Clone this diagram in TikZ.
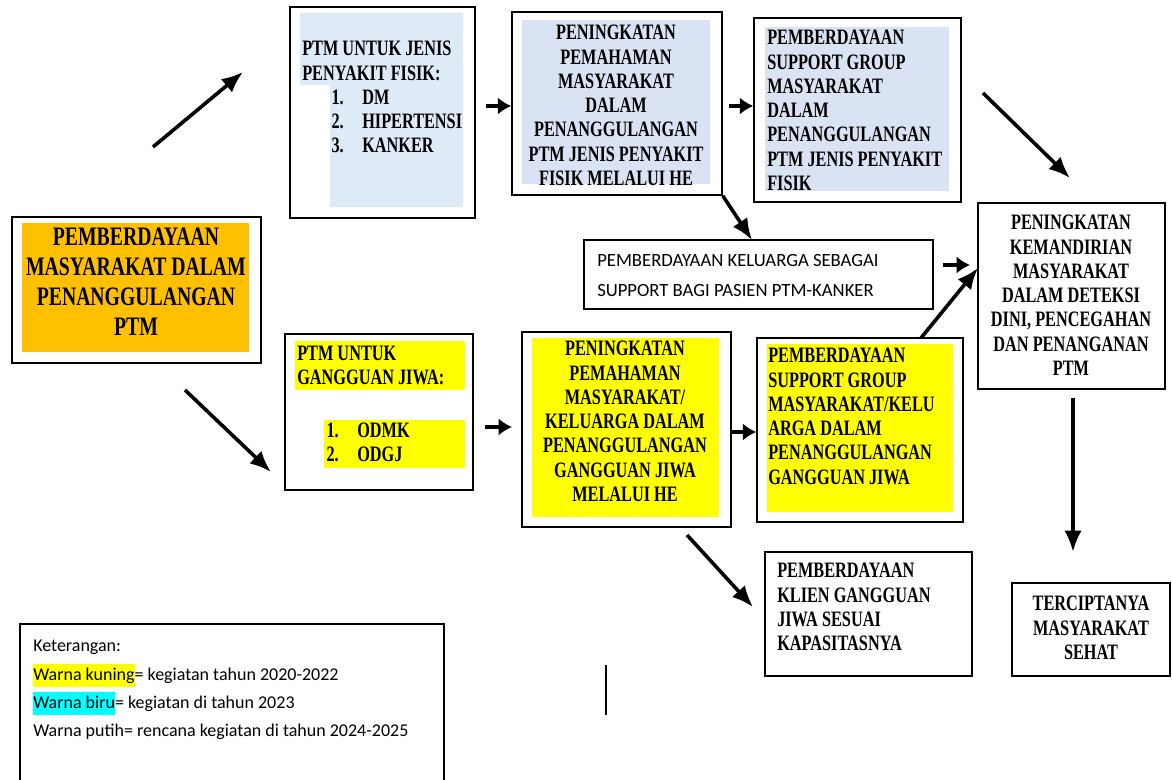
\documentclass[tikz,border=0pt]{standalone}
\usepackage{fontspec}
\usepackage{xcolor}
\usetikzlibrary{arrows.meta, positioning}
\newfontfamily\hurufjudul[FakeStretch=0.74]{Liberation Serif}
\newfontfamily\hurufsans{Carlito}
\definecolor{ORANYE}{HTML}{FFC000}
\definecolor{KUNING}{HTML}{FFFF00}
\definecolor{BIRU}{HTML}{DAE3F3}
\definecolor{BIRUMUDA}{HTML}{DEEAF6}
\definecolor{TOSKA}{HTML}{00FFFF}
\tikzset{
  bingkai/.style={% Style for the box frames
      rectangle, line width=1.2pt,
      draw=black,
      inner sep=0pt
  },
  teks/.style={% Style for centered box texts
      font=\hurufjudul\bfseries\fontsize{16.5}{18.2}\selectfont,
      inner sep=0pt,
      align=center,
      anchor=north
  },
  tekskiri/.style={% Style for left aligned box texts
      teks,
      align=left,
      anchor=north west
  },
  tekssans/.style={
      font=\hurufsans\fontsize{14}{22.5}\selectfont,
      inner sep=0pt,
      align=left,
      anchor=north west
  },
  panah/.style={line width=2.7pt, ->, >={Latex[length=16pt,width=13pt]}},
  panahpendek/.style={line width=3.4pt, ->, >={Latex[length=10pt,width=13pt]}}
}
% frame from pixel corners: name, x1, y1, x2, y2
\newcommand\kotak[5]{%
  \node[bingkai, minimum width={(#4-#2)*0.75pt}, minimum height={(#5-#3)*0.75pt}]
    (#1) at ({(#2+#4)/2},{(#3+#5)/2}) {};
}
% highlighted words in the legend
\newcommand\sorot[2]{{\setlength{\fboxsep}{0pt}\colorbox{#1}{\rule[-5pt]{0pt}{17pt}#2}}}
\begin{document}
\begin{tikzpicture}[x=0.75pt, y=-0.75pt]
  \useasboundingbox (0,0) rectangle (1172,780);
  % fills
  \fill[ORANYE] (22,223) rectangle (249,352);
  \fill[BIRUMUDA] (300,13) -| (463,207) -| (330,85) -| (300,13) -- cycle;
  \fill[BIRU] (522,20) rectangle (710,184);
  \fill[BIRU] (765,27) rectangle (949,191);
  \fill[KUNING] (295,341) rectangle (465,390);
  \fill[KUNING] (324,420) rectangle (465,468);
  \fill[KUNING] (532,338) rectangle (719,517);
  \fill[KUNING] (767,344) rectangle (953,512);
  % frames
  \kotak{utama}{12}{217}{261}{363}
  \kotak{fisik}{290}{7}{475}{218}
  \kotak{pf}{512}{12}{722}{195}
  \kotak{sf}{754}{18}{961}{202}
  \kotak{kel}{584}{240}{933}{309}
  \kotak{mandiri}{978}{203}{1165}{389}
  \kotak{jiwa}{285}{334}{473}{490}
  \kotak{pj}{522}{332}{731}{527}
  \kotak{sj}{757}{338}{963}{522}
  \kotak{klien}{765}{552}{972}{676}
  \kotak{sehat}{1012}{583}{1170}{676}
  \kotak{legenda}{20}{624}{444}{800}
  % texts
  \node[teks, font=\hurufjudul\bfseries\fontsize{20}{22.3}\selectfont] (tutama) at (136,228)
    {PEMBERDAYAAN\\MASYARAKAT  DALAM\\PENANGGULANGAN\\PTM};
  \node[tekskiri] (tfisik) at (302,41)
    {PTM UNTUK JENIS\\PENYAKIT FISIK:\\
     \hspace*{22pt}\makebox[23pt][l]{1.}DM\\
     \hspace*{22pt}\makebox[23pt][l]{2.}HIPERTENSI\\
     \hspace*{22pt}\makebox[23pt][l]{3.}KANKER};
  \node[teks] (tpf) at (616,25)
    {PENINGKATAN\\PEMAHAMAN\\MASYARAKAT\\DALAM\\PENANGGULANGAN\\PTM  JENIS PENYAKIT\\FISIK MELALUI HE};
  \node[tekskiri] (tsf) at (767,30)
    {PEMBERDAYAAN\\SUPPORT  GROUP\\MASYARAKAT\\DALAM\\PENANGGULANGAN\\PTM  JENIS PENYAKIT\\FISIK};
  \node[tekssans] (tkel) at (597,254)
    {PEMBERDAYAAN  KELUARGA  SEBAGAI\\SUPPORT BAGI PASIEN PTM-KANKER};
  \node[teks] (tmandiri) at (1071,215)
    {PENINGKATAN\\KEMANDIRIAN\\MASYARAKAT\\DALAM DETEKSI\\DINI, PENCEGAHAN\\DAN PENANGANAN\\PTM};
  \node[tekskiri] (tjiwa) at (297,346)
    {PTM  UNTUK\\GANGGUAN JIWA:\\[21pt]
     \hspace*{22pt}\makebox[23pt][l]{1.}ODMK\\
     \hspace*{22pt}\makebox[23pt][l]{2.}ODGJ};
  \node[teks] (tpj) at (625,341)
    {PENINGKATAN\\PEMAHAMAN\\MASYARAKAT/\\KELUARGA DALAM\\PENANGGULANGAN\\GANGGUAN JIWA\\MELALUI HE};
  \node[tekskiri] (tsj) at (768,348)
    {PEMBERDAYAAN\\SUPPORT  GROUP\\MASYARAKAT/KELU\\ARGA DALAM\\PENANGGULANGAN\\GANGGUAN JIWA};
  \node[tekskiri] (tklien) at (777,563)
    {PEMBERDAYAAN\\KLIEN GANGGUAN\\JIWA SESUAI\\KAPASITASNYA};
  \node[teks] (tsehat) at (1091,596)
    {TERCIPTANYA\\MASYARAKAT\\SEHAT};
  \node[tekssans, font=\hurufsans\fontsize{13.5}{21.2}\selectfont] (tlegenda) at (33,640)
    {Keterangan:\\
     \sorot{KUNING}{Warna kuning}= kegiatan tahun 2020-2022\\
     \sorot{TOSKA}{Warna biru}= kegiatan di tahun 2023\\
     Warna putih= rencana kegiatan di tahun 2024-2025};
  % arrow ends
  \coordinate (p1a) at (153,147);
  \coordinate (p1b) at (243,72);
  \coordinate (p2a) at (185,390);
  \coordinate (p2b) at (271,472);
  \coordinate (p3a) at (486,106);
  \coordinate (p4a) at (729,106);
  \coordinate (p5b) at (752,240);
  \coordinate (p6a) at (983,93);
  \coordinate (p6b) at (1070,178);
  \coordinate (p7a) at (943,265);
  \coordinate (p7b) at (970,265);
  \coordinate (p8a) at (921,338);
  \coordinate (p8b) at (978,268);
  \coordinate (p9a) at (485,427);
  \coordinate (p9b) at (512,427);
  \coordinate (p10a) at (732,432);
  \coordinate (p11a) at (687,535);
  \coordinate (p11b) at (753,607);
  \coordinate (p12a) at (1073,398);
  \coordinate (p12b) at (1073,552);
  % arrows
  \draw[panah] (p1a) -- (p1b);
  \draw[panah] (p2a) -- (p2b);
  \draw[panahpendek] (p3a) -- (pf.west |- p3a);
  \draw[panahpendek] (p4a) -- (sf.west |- p4a);
  \draw[panah] (pf.south east) -- (p5b);
  \draw[panah] (p6a) -- (p6b);
  \draw[panahpendek] (p7a) -- (p7b);
  \draw[panah] (p8a) -- (p8b);
  \draw[panahpendek] (p9a) -- (p9b);
  \draw[panahpendek] (p10a) -- (sj.west |- p10a);
  \draw[panah] (p11a) -- (p11b);
  \draw[panah] (p12a) -- (p12b);
  \draw[line width=1pt] (606,665) -- (606,715);
\end{tikzpicture}
\end{document}
